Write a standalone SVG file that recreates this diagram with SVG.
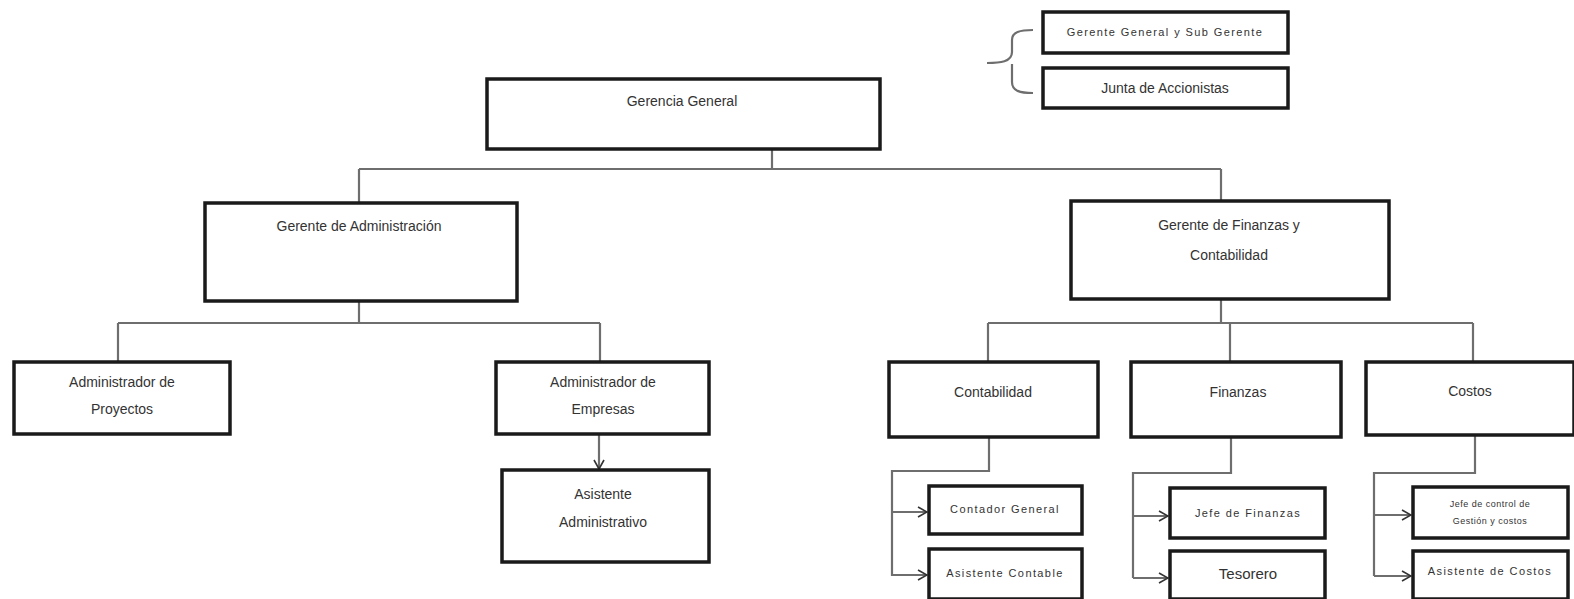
<svg xmlns="http://www.w3.org/2000/svg" width="1574" height="599" viewBox="0 0 1574 599">
<defs>
<style>
.box{fill:#fff;stroke:#1a1a1a;stroke-width:3.5}
.t{font-family:"Liberation Sans",Arial,sans-serif;font-size:14px;fill:#333;text-anchor:middle}
.s{font-size:11px;letter-spacing:1.4px}
.xs{font-size:9px;letter-spacing:0.5px}
.c{fill:none;stroke:#6e6e6e;stroke-width:2.2}
</style>
<marker id="ar" viewBox="0 0 12 12" refX="11" refY="6" markerWidth="12" markerHeight="12" markerUnits="userSpaceOnUse" orient="auto">
<polyline points="2,1 11,6 2,11" fill="none" stroke="#333" stroke-width="1.6"/>
</marker>
</defs>
<rect width="1574" height="599" fill="#fff"/>
<g id="connectors">
<path class="c" d="M772 149 V169 M359 169 H1221 M359 169 V203 M1221 169 V201"/>
<path class="c" d="M359 301 V323 M118 323 H600 M118 323 V361 M600 323 V361"/>
<path class="c" d="M599 433 V469" marker-end="url(#ar)"/>
<path class="c" d="M1221 299 V323 M988 323 H1473 M988 323 V361 M1230 323 V361 M1473 323 V361"/>
<path class="c" d="M989 436 V471 H892 V576"/>
<path class="c" d="M892 512 H927" marker-end="url(#ar)"/>
<path class="c" d="M892 575 H927" marker-end="url(#ar)"/>
<path class="c" d="M1231 436 V473 H1133 V578"/>
<path class="c" d="M1133 516 H1168" marker-end="url(#ar)"/>
<path class="c" d="M1133 578 H1168" marker-end="url(#ar)"/>
<path class="c" d="M1475 434 V473 H1374 V576"/>
<path class="c" d="M1374 515 H1411" marker-end="url(#ar)"/>
<path class="c" d="M1374 576 H1411" marker-end="url(#ar)"/>
<path class="c" d="M987 63 C1000 63 1012 62 1012 52 V40 C1012 32 1020 30 1033 30 M1012 64 V82 C1012 91 1020 93 1033 93" stroke-width="1.8"/>
</g>
<g id="gerencia-general"><rect class="box" x="487" y="79" width="393" height="70"/><text class="t" x="682" y="106">Gerencia General</text></g>
<g id="gerente-sub"><rect class="box" x="1043" y="12" width="245" height="41"/><text class="t s" x="1165" y="36">Gerente General y Sub Gerente</text></g>
<g id="junta"><rect class="box" x="1043" y="68" width="245" height="40"/><text class="t" x="1165" y="93">Junta de Accionistas</text></g>
<g id="gerente-admin"><rect class="box" x="205" y="203" width="312" height="98"/><text class="t" x="359" y="231">Gerente de Administración</text></g>
<g id="gerente-finanzas"><rect class="box" x="1071" y="201" width="318" height="98"/><text class="t" x="1229" y="230">Gerente de Finanzas y</text><text class="t" x="1229" y="260">Contabilidad</text></g>
<g id="admin-proyectos"><rect class="box" x="14" y="362" width="216" height="72"/><text class="t" x="122" y="387">Administrador de</text><text class="t" x="122" y="414">Proyectos</text></g>
<g id="admin-empresas"><rect class="box" x="496" y="362" width="213" height="72"/><text class="t" x="603" y="387">Administrador de</text><text class="t" x="603" y="414">Empresas</text></g>
<g id="asistente-admin"><rect class="box" x="502" y="470" width="207" height="92"/><text class="t" x="603" y="499">Asistente</text><text class="t" x="603" y="527">Administrativo</text></g>
<g id="contabilidad"><rect class="box" x="889" y="362" width="209" height="75"/><text class="t" x="993" y="397">Contabilidad</text></g>
<g id="finanzas"><rect class="box" x="1131" y="362" width="210" height="75"/><text class="t" x="1238" y="397">Finanzas</text></g>
<g id="costos"><rect class="box" x="1366" y="362" width="208" height="73"/><text class="t" x="1470" y="396">Costos</text></g>
<g id="contador-general"><rect class="box" x="929" y="486" width="153" height="48"/><text class="t s" x="1005" y="513">Contador General</text></g>
<g id="asistente-contable"><rect class="box" x="929" y="549" width="153" height="50"/><text class="t s" x="1005" y="577">Asistente Contable</text></g>
<g id="jefe-finanzas"><rect class="box" x="1170" y="488" width="155" height="50"/><text class="t s" x="1248" y="517">Jefe de Finanzas</text></g>
<g id="tesorero"><rect class="box" x="1170" y="551" width="155" height="48"/><text class="t" x="1248" y="579" style="font-size:15px">Tesorero</text></g>
<g id="jefe-control"><rect class="box" x="1413" y="487" width="155" height="51"/><text class="t xs" x="1490" y="507">Jefe de control de</text><text class="t xs" x="1490" y="524">Gestión y costos</text></g>
<g id="asistente-costos"><rect class="box" x="1413" y="551" width="155" height="48"/><text class="t s" x="1490" y="575">Asistente de Costos</text></g>
</svg>
